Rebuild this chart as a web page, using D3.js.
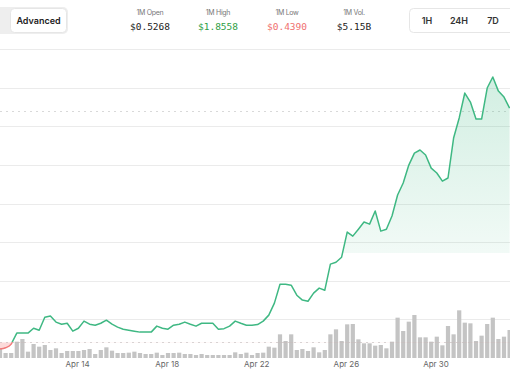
<!DOCTYPE html>
<html>
<head>
<meta charset="utf-8">
<script src="https://cdn.jsdelivr.net/npm/d3@7"></script>
<style>
  body { margin: 0; background: #fff; }
  svg { display: block; font-family: Inter, "Noto Sans", sans-serif; }
</style>
</head>
<body>
<svg id="chart" width="510" height="369"></svg>
<script>
// price every 6 hours
var prices = [
  0.446, 0.453, 0.472, 0.529, 0.529, 0.529, 0.554, 0.544, 0.611, 0.617,
  0.586, 0.575, 0.580, 0.539, 0.554, 0.591, 0.575, 0.570, 0.580, 0.596,
  0.575, 0.560, 0.549, 0.544, 0.539, 0.534, 0.534, 0.534, 0.565, 0.554,
  0.549, 0.570, 0.575, 0.586, 0.575, 0.565, 0.580, 0.580, 0.580, 0.549,
  0.552, 0.565, 0.591, 0.580, 0.570, 0.570, 0.573, 0.591, 0.622, 0.684,
  0.782, 0.782, 0.777, 0.725, 0.700, 0.694, 0.736, 0.762, 0.751, 0.886,
  0.896, 0.922, 1.052, 1.031, 1.067, 1.104, 1.093, 1.161, 1.057, 1.067,
  1.135, 1.244, 1.306, 1.399, 1.461, 1.477, 1.451, 1.383, 1.358, 1.316,
  1.332, 1.539, 1.643, 1.772, 1.725, 1.637, 1.637, 1.798, 1.855, 1.782,
  1.751, 1.694
];
// volume per 6h bar ($M)
var volumes = [
  29, 15, 15, 49, 57, 19, 42, 34, 39, 24,
  29, 15, 21, 21, 21, 24, 27, 12, 24, 32,
  22, 15, 15, 16, 19, 15, 12, 12, 16, 9,
  15, 15, 16, 12, 12, 9, 12, 9, 9, 9,
  9, 9, 17, 12, 16, 9, 15, 16, 34, 31,
  71, 51, 71, 24, 27, 21, 32, 17, 24, 71,
  86, 51, 101, 102, 56, 44, 44, 37, 39, 29,
  49, 121, 81, 109, 129, 62, 62, 49, 64, 38,
  96, 71, 143, 106, 104, 51, 67, 102, 121, 57,
  64, 84
];
var tickDates = ["2024-04-14", "2024-04-18", "2024-04-22", "2024-04-26", "2024-04-30"];
var gridPrices = [0.6, 0.8, 1.0, 1.2, 1.4, 1.6, 1.8, 2.0];
var basePrice = 0.482;     // dotted reference, red below
var lastPrice = 1.680;     // dotted current price line
var statLabels = ["1M Open", "1M High", "1M Low", "1M Vol."];
var statValues = ["$0.5268", "$1.8558", "$0.4390", "$5.15B"];
var rangeButtons = ["1H", "24H", "7D"];

var W = 510, H = 369;
var svg = d3.select("#chart");

var start = new Date(2024, 3, 10, 13, 25);
var step = 6 * 3600 * 1000;
var data = prices.map(function (p, i) {
  return { date: new Date(start.getTime() + i * step), price: p, vol: volumes[i] };
});

var x = d3.scaleTime()
  .domain([start, new Date(start.getTime() + 91 * step)])
  .range([0, 509.6]);
var y = d3.scaleLinear().domain([0.4, 2.0]).range([358, 49]);
var yVol = d3.scaleLinear().domain([0, 300]).range([358, 258]);

var defs = svg.append("defs");
var grad = defs.append("linearGradient")
  .attr("id", "greenFill")
  .attr("gradientUnits", "userSpaceOnUse")
  .attr("x1", 0).attr("x2", 0).attr("y1", 70).attr("y2", 253);
grad.append("stop").attr("offset", 0).attr("stop-color", "#3fb883").attr("stop-opacity", 0.24);
grad.append("stop").attr("offset", 1).attr("stop-color", "#3fb883").attr("stop-opacity", 0.07);

var yBase = y(basePrice);
defs.append("clipPath").attr("id", "aboveBase")
  .append("rect").attr("x", 0).attr("y", 0).attr("width", W).attr("height", yBase);
defs.append("clipPath").attr("id", "belowBase")
  .append("rect").attr("x", 0).attr("y", yBase).attr("width", W).attr("height", H - yBase);
defs.append("clipPath").attr("id", "fadeCut")
  .append("rect").attr("x", 0).attr("y", 0).attr("width", W).attr("height", 253);

// grid
svg.append("g")
  .selectAll("line")
  .data(gridPrices)
  .enter()
  .append("line")
  .attr("x1", 0).attr("x2", W)
  .attr("y1", function (d) { return Math.round(y(d)) + 0.5; })
  .attr("y2", function (d) { return Math.round(y(d)) + 0.5; })
  .attr("stroke", "#ebebeb")
  .attr("stroke-width", 1);

// dotted reference lines
svg.append("g")
  .selectAll("line")
  .data([basePrice, lastPrice])
  .enter()
  .append("line")
  .attr("x1", 0).attr("x2", W)
  .attr("y1", function (d) { return Math.round(y(d)) + 0.5; })
  .attr("y2", function (d) { return Math.round(y(d)) + 0.5; })
  .attr("stroke", "#d9d9d9")
  .attr("stroke-dasharray", "2,4");

// volume bars
svg.append("g")
  .selectAll("rect")
  .data(data)
  .enter()
  .append("rect")
  .attr("x", function (d) { return x(d.date) - 2.1; })
  .attr("width", 4.2)
  .attr("y", function (d) { return yVol(d.vol); })
  .attr("height", function (d) { return yVol(0) - yVol(d.vol); })
  .attr("fill", "#c4c4c4");

// areas
var area = d3.area()
  .x(function (d) { return x(d.date); })
  .y0(yBase)
  .y1(function (d) { return y(d.price); });

svg.append("g").attr("clip-path", "url(#fadeCut)")
  .append("path")
  .datum(data)
  .attr("d", area)
  .attr("clip-path", "url(#aboveBase)")
  .attr("fill", "url(#greenFill)");

svg.append("path")
  .datum(data)
  .attr("d", area.curve(d3.curveMonotoneX))
  .attr("clip-path", "url(#belowBase)")
  .attr("fill", "#f56b6b")
  .attr("fill-opacity", 0.25);

// price line (green above base, red below)
var line = d3.line()
  .x(function (d) { return x(d.date); })
  .y(function (d) { return y(d.price); });

svg.append("path")
  .datum(data)
  .attr("d", line)
  .attr("clip-path", "url(#aboveBase)")
  .attr("fill", "none")
  .attr("stroke", "#3fb883")
  .attr("stroke-width", 1.5)
  .attr("stroke-linejoin", "round");

svg.append("path")
  .datum(data)
  .attr("d", line.curve(d3.curveMonotoneX))
  .attr("clip-path", "url(#belowBase)")
  .attr("fill", "none")
  .attr("stroke", "#f07a7a")
  .attr("stroke-width", 1.5);

// x axis labels
var xAxis = d3.axisBottom(x)
  .tickValues(tickDates.map(function (s) { return d3.timeParse("%Y-%m-%d")(s); }))
  .tickFormat(d3.timeFormat("%b %-d"))
  .tickSize(0)
  .tickPadding(0);
var gx = svg.append("g").attr("transform", "translate(0,359)").call(xAxis);
gx.select(".domain").remove();
gx.selectAll("text")
  .attr("dy", "0.71em")
  .attr("y", 2)
  .attr("fill", "#666")
  .style("font-size", "8px")
  .style("font-family", "Inter, sans-serif");

// header: segmented control
var head = svg.append("g");
head.append("rect")
  .attr("x", -40).attr("y", 7).attr("width", 108).attr("height", 27).attr("rx", 5)
  .attr("fill", "#eeeeee");
head.append("rect")
  .attr("x", 10.5).attr("y", 8.5).attr("width", 56).attr("height", 24).attr("rx", 4)
  .attr("fill", "#fff").attr("stroke", "#e6e6e6");
head.append("text")
  .attr("x", 38.5).attr("y", 24)
  .attr("text-anchor", "middle")
  .attr("fill", "#222")
  .style("font-size", "9px")
  .style("font-weight", 600)
  .text("Advanced");

// stats
var statX = [150, 218, 287, 354];
var statColors = ["#222", "#2e9e45", "#f07070", "#222"];
var stats = head.selectAll(".stat").data(statLabels).enter().append("g").attr("class", "stat");
stats.append("text")
  .attr("x", function (d, i) { return statX[i]; })
  .attr("y", 15)
  .attr("text-anchor", "middle")
  .attr("fill", "#777")
  .style("font-size", "7px")
  .style("letter-spacing", "-0.3px")
  .text(function (d) { return d; });
stats.append("text")
  .attr("x", function (d, i) { return statX[i]; })
  .attr("y", 30)
  .attr("text-anchor", "middle")
  .attr("fill", function (d, i) { return statColors[i]; })
  .style("font-size", "9.5px")
  .style("font-family", "'DejaVu Sans Mono', monospace")
  .text(function (d, i) { return statValues[i]; });

// range buttons
head.append("rect")
  .attr("x", 409.5).attr("y", 8.5).attr("width", 120).attr("height", 24).attr("rx", 4)
  .attr("fill", "#fff").attr("stroke", "#e6e6e6");
var btnX = [427, 459, 493];
head.selectAll(".btn").data(rangeButtons).enter().append("text")
  .attr("class", "btn")
  .attr("x", function (d, i) { return btnX[i]; })
  .attr("y", 24)
  .attr("text-anchor", "middle")
  .attr("fill", "#333")
  .style("font-size", "9px")
  .style("font-weight", 600)
  .text(function (d) { return d; });
</script>
</body>
</html>
